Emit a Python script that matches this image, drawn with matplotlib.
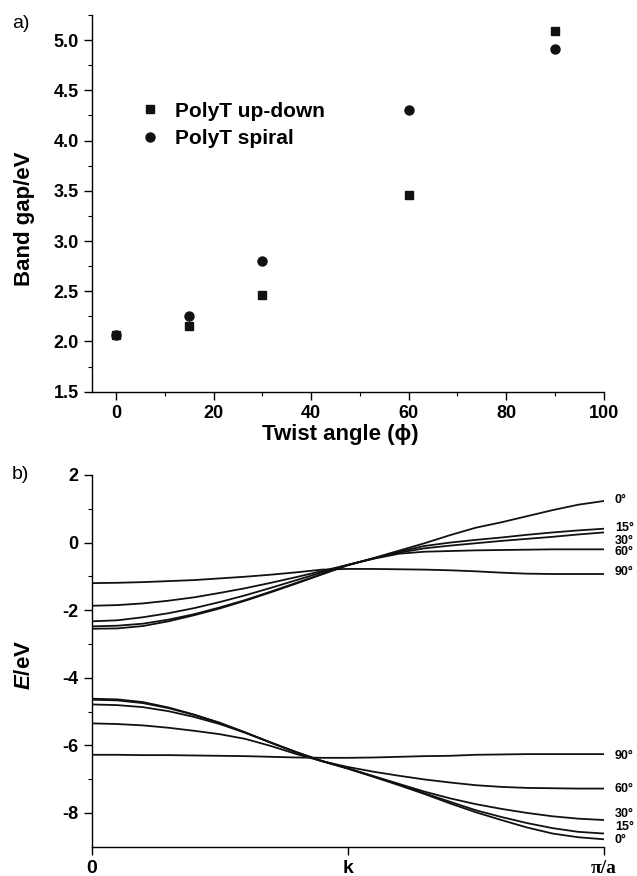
import matplotlib
matplotlib.use("Agg")
import matplotlib.pyplot as plt
from matplotlib.ticker import MultipleLocator, FixedLocator, FormatStrFormatter

plt.rcParams['font.family'] = ['Liberation Sans', 'DejaVu Sans']
plt.rcParams['font.weight'] = 'bold'
plt.rcParams['axes.unicode_minus'] = False
plt.rcParams['mathtext.fontset'] = 'custom'
plt.rcParams['mathtext.it'] = 'Liberation Sans:italic:bold'
plt.rcParams['mathtext.rm'] = 'Liberation Sans:bold'

# ---------------- data: panel a ----------------
twist_angle = [0, 15, 30, 60, 90]
gap_updown = [2.06, 2.15, 2.46, 3.46, 5.09]
gap_spiral = [2.06, 2.25, 2.80, 4.30, 4.91]

# ---------------- data: panel b ----------------
k_pts = [0.00, 0.05, 0.10, 0.15, 0.20, 0.25, 0.30, 0.35, 0.40, 0.45, 0.50,
         0.55, 0.60, 0.65, 0.70, 0.75, 0.80, 0.85, 0.90, 0.95, 1.00]
band_labels = ['0°', '15°', '30°', '60°', '90°']

cond_0 = [-2.55, -2.54, -2.47, -2.33, -2.15, -1.95, -1.72, -1.47, -1.21, -0.94, -0.67,
          -0.46, -0.24, -0.02, 0.22, 0.44, 0.60, 0.78, 0.96, 1.12, 1.23]
cond_15 = [-2.48, -2.46, -2.40, -2.28, -2.12, -1.92, -1.70, -1.45, -1.19, -0.93, -0.67,
           -0.47, -0.27, -0.10, 0.00, 0.08, 0.15, 0.23, 0.30, 0.36, 0.41]
cond_30 = [-2.33, -2.30, -2.21, -2.09, -1.94, -1.76, -1.56, -1.34, -1.11, -0.88, -0.66,
           -0.47, -0.30, -0.17, -0.09, -0.02, 0.05, 0.11, 0.17, 0.24, 0.30]
cond_60 = [-1.87, -1.85, -1.80, -1.72, -1.62, -1.49, -1.35, -1.19, -1.02, -0.84, -0.66,
           -0.48, -0.33, -0.27, -0.25, -0.23, -0.22, -0.21, -0.20, -0.20, -0.20]
cond_90 = [-1.20, -1.19, -1.17, -1.14, -1.11, -1.06, -1.01, -0.95, -0.88, -0.80, -0.78,
           -0.78, -0.79, -0.80, -0.82, -0.85, -0.89, -0.92, -0.93, -0.93, -0.93]

val_0 = [-4.62, -4.64, -4.72, -4.88, -5.09, -5.33, -5.62, -5.92, -6.21, -6.47, -6.69,
         -6.93, -7.18, -7.44, -7.72, -7.98, -8.21, -8.43, -8.61, -8.72, -8.78]
val_15 = [-4.65, -4.67, -4.75, -4.90, -5.10, -5.34, -5.62, -5.92, -6.21, -6.47, -6.68,
          -6.92, -7.16, -7.42, -7.67, -7.92, -8.12, -8.30, -8.45, -8.56, -8.61]
val_30 = [-4.79, -4.81, -4.87, -4.99, -5.16, -5.37, -5.63, -5.92, -6.20, -6.46, -6.68,
          -6.91, -7.14, -7.37, -7.57, -7.74, -7.88, -8.00, -8.10, -8.17, -8.21]
val_60 = [-5.35, -5.37, -5.41, -5.48, -5.57, -5.67, -5.81, -6.02, -6.26, -6.47, -6.64,
          -6.78, -6.90, -7.01, -7.10, -7.18, -7.23, -7.26, -7.27, -7.28, -7.28]
val_90 = [-6.28, -6.28, -6.29, -6.29, -6.30, -6.31, -6.32, -6.34, -6.36, -6.37, -6.37,
          -6.36, -6.34, -6.32, -6.31, -6.28, -6.27, -6.26, -6.26, -6.26, -6.26]

cond_bands = [cond_0, cond_15, cond_30, cond_60, cond_90]
val_bands = [val_0, val_15, val_30, val_60, val_90]

# label anchor energies (layout only)
cond_label_y = [1.25, 0.42, 0.06, -0.28, -0.86]
val_label_y = [-6.32, -7.28, -8.03, -8.42, -8.80]

W, H = 637, 876
fig = plt.figure(figsize=(W / 100, H / 100), dpi=100)

def frac_axes(left, top, right, bottom):
    return fig.add_axes([left / W, 1 - bottom / H, (right - left) / W, (bottom - top) / H])

TICK_FS = 13
LABEL_FS = 16

def style(ax):
    for s in ['top', 'right']:
        ax.spines[s].set_visible(False)
    for s in ['left', 'bottom']:
        ax.spines[s].set_linewidth(1.0)
    ax.tick_params(which='major', direction='out', length=6, width=1.0, labelsize=TICK_FS)
    ax.tick_params(which='minor', direction='out', length=3, width=0.8)
    for lab in ax.get_xticklabels() + ax.get_yticklabels():
        lab.set_fontweight('bold')

# ---------------- panel a ----------------
ax1 = frac_axes(91.7, 15, 603.7, 391.7)
ax1.plot(twist_angle, gap_updown, 's', color='#111111', markersize=5.5, linestyle='none',
         label='PolyT up-down')
ax1.plot(twist_angle, gap_spiral, 'o', color='#111111', markersize=6.5, linestyle='none',
         label='PolyT spiral')
ax1.set_xlim(-5, 100)
ax1.set_ylim(1.5, 5.25)
ax1.xaxis.set_major_locator(FixedLocator([0, 20, 40, 60, 80, 100]))
ax1.xaxis.set_minor_locator(FixedLocator([10, 30, 50, 70, 90]))
ax1.yaxis.set_major_locator(MultipleLocator(0.5))
ax1.yaxis.set_minor_locator(MultipleLocator(0.25))
ax1.yaxis.set_major_formatter(FormatStrFormatter('%.1f'))
style(ax1)
ax1.set_ylabel('Band gap/eV', fontsize=LABEL_FS, fontweight='bold')
ax1.set_xlabel('Twist angle (ϕ)', fontsize=LABEL_FS, fontweight='bold')
ax1.yaxis.set_label_coords(-0.110, 0.46)
ax1.xaxis.set_label_coords(0.485, -0.085)
leg = ax1.legend(loc='center left', bbox_to_anchor=(0.093, 0.708), frameon=False,
                 fontsize=15, handlelength=1.0, handletextpad=0.7, labelspacing=0.42,
                 borderpad=0, borderaxespad=0)
for t in leg.get_texts():
    t.set_fontweight('bold')

# ---------------- panel b ----------------
ax2 = frac_axes(91.7, 475, 603.7, 846.7)
for band in cond_bands:
    ax2.plot(k_pts, band, color='#111111', lw=1.3)
for band in val_bands:
    ax2.plot(k_pts, band, color='#111111', lw=1.3)
ax2.set_xlim(0, 1)
ax2.set_ylim(-9, 2)
ax2.yaxis.set_major_locator(FixedLocator([2, 0, -2, -4, -6, -8]))
ax2.yaxis.set_minor_locator(FixedLocator([1, -1, -3, -5, -7]))
style(ax2)
ax2.set_xticks([0, 0.5, 1.0])
ax2.set_xticklabels(['0', 'k', 'π/a'])
xl = ax2.get_xticklabels()
for lab in xl:
    lab.set_fontweight('bold')
xl[2].set_fontfamily(['Liberation Serif', 'DejaVu Serif'])
ax2.tick_params(axis='x', labelsize=14)
ax2.set_ylabel(r'$\mathit{E}$/eV', fontsize=LABEL_FS, fontweight='bold')
ax2.yaxis.set_label_coords(-0.110, 0.49)

narrow = ['Liberation Sans Narrow', 'Liberation Sans', 'DejaVu Sans']
for lbl, yy in zip(band_labels, cond_label_y):
    ax2.text(1.022, yy, lbl, fontsize=9, fontweight='bold', ha='left', va='center',
             family=narrow, transform=ax2.get_yaxis_transform(), clip_on=False)
for lbl, yy in zip(band_labels[::-1], val_label_y):
    ax2.text(1.022, yy, lbl, fontsize=9, fontweight='bold', ha='left', va='center',
             family=narrow, transform=ax2.get_yaxis_transform(), clip_on=False)

fig.text(12 / W, 1 - 23 / H, 'a)', fontsize=14, fontweight='normal', ha='left', va='center')
fig.text(12 / W, 1 - 474 / H, 'b)', fontsize=14, fontweight='normal', ha='left', va='center')

fig.savefig('out.png', dpi=100)
